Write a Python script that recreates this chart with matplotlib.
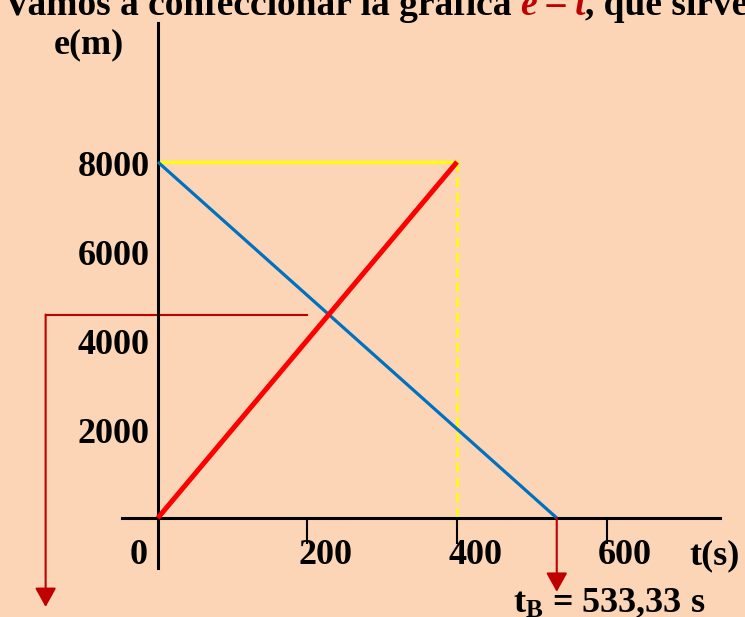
import matplotlib.pyplot as plt

plt.rcParams['font.family'] = ['Liberation Serif', 'DejaVu Serif']
plt.rcParams['font.weight'] = 'bold'
plt.rcParams['mathtext.fontset'] = 'custom'
plt.rcParams['mathtext.rm'] = 'Liberation Serif:bold'
plt.rcParams['mathtext.it'] = 'Liberation Serif:bold'
plt.rcParams['mathtext.bf'] = 'Liberation Serif:bold'

# movil A (rojo) y movil B (azul)
t_A = [0, 400]
e_A = [0, 8000]
t_B = [0, 533.33]
e_B = [8000, 0]

x_ticks = [200, 400, 600]
x_labels = ['0', '200', '400', '600']
y_ticks = [2000, 4000, 6000, 8000]

# punto de encuentro
v_A = e_A[1] / t_A[1]
v_B = e_B[0] / t_B[1]
t_enc = e_B[0] / (v_A + v_B)
e_enc = v_A * t_enc

bg = '#FBD5B5'
dark_red = '#C00000'

fig = plt.figure(figsize=(7.45, 6.17), dpi=100, facecolor=bg)
ax = fig.add_axes([0, 0, 1, 1], facecolor=bg)
ax.set_xlim(-211, 785)
ax.set_ylim(-2225, 11640)

# ejes cruzando en el origen
for s in ['top', 'right']:
    ax.spines[s].set_visible(False)
ax.spines['left'].set_position(('data', 0))
ax.spines['bottom'].set_position(('data', 0))
ax.spines['left'].set_bounds(-1124, 11120)
ax.spines['bottom'].set_bounds(-48, 752)
ax.spines['left'].set_linewidth(2.2)
ax.spines['bottom'].set_linewidth(2.2)
ax.set_yticks([])
ax.set_xticks(x_ticks)
ax.set_xticklabels([])
ax.tick_params(axis='x', direction='out', length=19, width=1.5)

fs = 26
for i, lab in enumerate(x_labels):
    x = ([0] + x_ticks)[i]
    dx = -14 if lab == '0' else 13
    ax.annotate(lab, (x, 0), xytext=(dx, -27), textcoords='offset points',
                ha='center', va='center', fontsize=fs)
for y in y_ticks:
    ax.annotate(str(y), (0, y), xytext=(-6, -4), textcoords='offset points',
                ha='right', va='center', fontsize=fs)
ax.annotate('e(m)', (0, 11640), xytext=(-50, -32), textcoords='offset points',
            ha='center', va='center', fontsize=fs)
ax.annotate('t(s)', (752, 0), xytext=(-4, -27), textcoords='offset points',
            ha='center', va='center', fontsize=fs)

# lineas amarillas de referencia
ax.plot([0, t_A[1]], [e_A[1], e_A[1]], color='#FFFF00', lw=2.2, zorder=2)
ax.plot([t_A[1], t_A[1]], [e_A[1], 0], color='#FFFF00', lw=1.8,
        dashes=(4, 2), zorder=2)

ax.plot(t_B, e_B, color='#0070C0', lw=2.3, zorder=3, solid_capstyle='butt')
ax.plot(t_A, e_A, color='#FF0000', lw=3.6, zorder=4, solid_capstyle='butt')

# flechas
arrow = dict(arrowstyle='-|>,head_length=0.45,head_width=0.25', color=dark_red,
             lw=1.5, mutation_scale=26, shrinkA=0, shrinkB=0)
ax.plot([-150, 200], [e_enc, e_enc], color=dark_red, lw=1.5, zorder=2)
ax.annotate('', xy=(-150, -2000), xytext=(-150, e_enc), arrowprops=arrow)
ax.annotate('', xy=(t_B[1], -1660), xytext=(t_B[1], 0), arrowprops=arrow)
ax.annotate(r'$\mathbf{t_B}$ = 533,33 s', (t_B[1], 0), xytext=(38, -68),
            textcoords='offset points', ha='center', va='baseline', fontsize=fs)

# titulo cortado arriba
tfs = 27
t1 = fig.text(0.005, 1 - 15 / 617, 'Vamos a confeccionar la gráfica ',
              fontsize=tfs, va='baseline', ha='left')
t2 = ax.annotate('e – t', xy=(1, 0), xycoords=t1, va='bottom', ha='left',
                 fontsize=tfs, color=dark_red, style='italic')
ax.annotate(', que sirve para', xy=(1, 0), xycoords=t2, va='bottom',
            ha='left', fontsize=tfs)

fig.savefig('out.png', dpi=100, facecolor=bg)
